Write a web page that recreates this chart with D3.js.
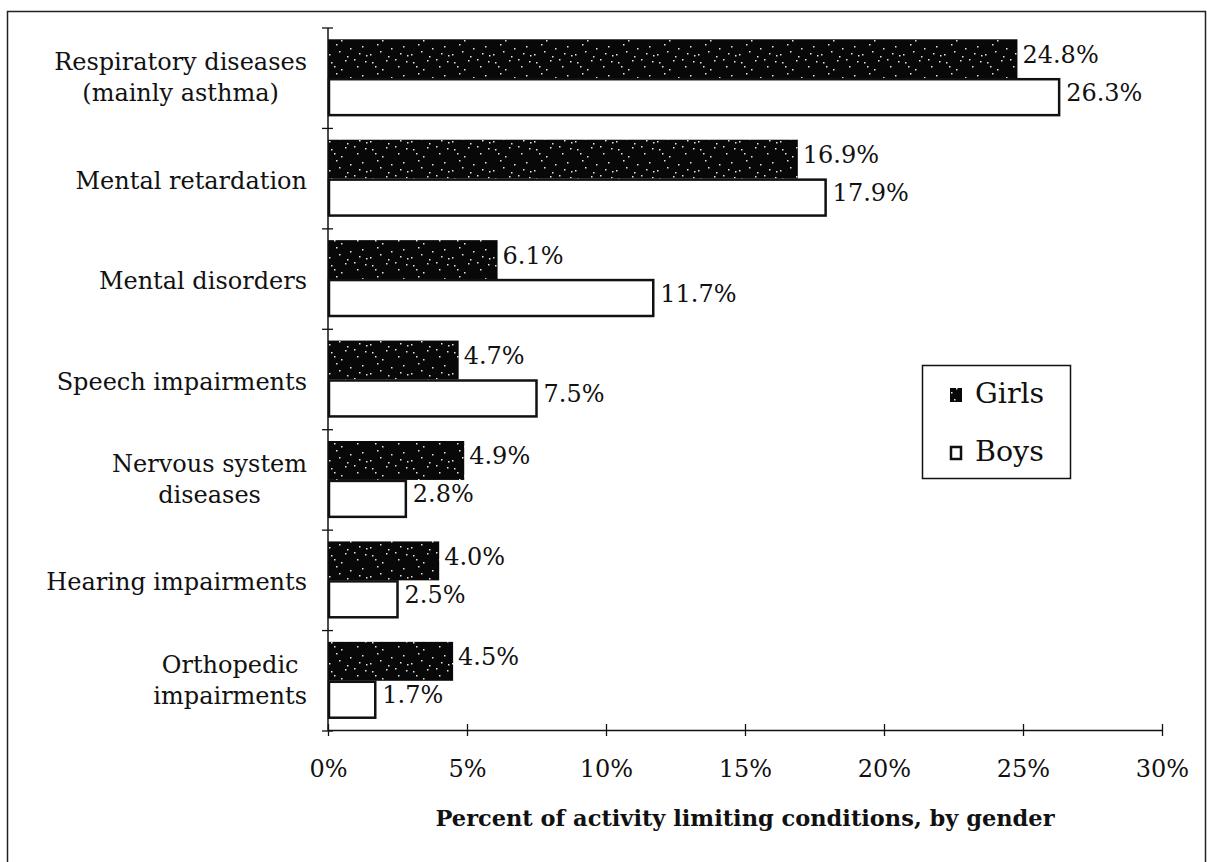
<!DOCTYPE html>
<html>
<head>
<meta charset="utf-8">
<script src="https://cdn.jsdelivr.net/npm/d3@7"></script>
<style>
  body { margin: 0; background: #fff; }
  svg { display: block; }
  text { font-family: "DejaVu Serif", "Liberation Serif", serif; fill: #111; }
</style>
</head>
<body>
<svg id="chart" width="1207" height="862"></svg>
<script>
// data
const categories = [
    "Respiratory diseases\n(mainly asthma)",
    "Mental retardation",
    "Mental disorders",
    "Speech impairments",
    "Nervous system\ndiseases",
    "Hearing impairments",
    "Orthopedic\nimpairments"
];
const series = ["Girls", "Boys"];
const girls = [24.8, 16.9, 6.1, 4.7, 4.9, 4.0, 4.5];
const boys = [26.3, 17.9, 11.7, 7.5, 2.8, 2.5, 1.7];
const xTicks = [0, 5, 10, 15, 20, 25, 30];
const axisTitle = "Percent of activity limiting conditions, by gender";

const svg = d3.select("#chart");
const fontSize = 24;

// speckled black fill for the girls bars
const defs = svg.append("defs");
const pat = defs.append("pattern")
    .attr("id", "speckle")
    .attr("width", 41).attr("height", 29)
    .attr("patternUnits", "userSpaceOnUse");
pat.append("rect").attr("width", 41).attr("height", 29).attr("fill", "#080808");
const dots = [[3,4],[17,2],[29,8],[37,3],[8,15],[22,19],[34,17],[1,25],[13,11],[38,26],[26,1],[11,22],[31,24],[19,27],[6,8]];
pat.selectAll("rect.d").data(dots).enter().append("rect")
    .attr("class", "d")
    .attr("x", d => d[0]).attr("y", d => d[1])
    .attr("width", 1.5).attr("height", 1.5)
    .attr("fill", "#e8e8e8");

// frame round the picture
svg.append("rect")
    .attr("x", 7.5).attr("y", 11.5)
    .attr("width", 1198).attr("height", 880)
    .attr("fill", "none").attr("stroke", "#222").attr("stroke-width", 1.5);

const x = d3.scaleLinear().domain([0, 30]).range([328, 1162]);
const y = d3.scaleBand().domain(categories).range([28, 731]);
const ySub = d3.scaleBand().domain(series).range([0, y.bandwidth()])
    .paddingInner(0).paddingOuter(0.29);

const rows = categories.map((c, i) => ({ cat: c, girls: girls[i], boys: boys[i] }));

// bars
const g = svg.append("g");
rows.forEach(r => {
    g.append("rect")
        .attr("x", x(0))
        .attr("y", y(r.cat) + ySub("Girls"))
        .attr("width", x(r.girls) - x(0))
        .attr("height", ySub.bandwidth())
        .attr("fill", "url(#speckle)");
    g.append("rect")
        .attr("x", x(0) + 1)
        .attr("y", y(r.cat) + ySub("Boys") + 1)
        .attr("width", x(r.boys) - x(0) - 1)
        .attr("height", ySub.bandwidth() - 3)
        .attr("fill", "#fff")
        .attr("stroke", "#111")
        .attr("stroke-width", 2.5);

    g.append("text")
        .attr("x", x(r.girls) + 5)
        .attr("y", y(r.cat) + ySub("Girls") + ySub.bandwidth() / 2 + 4)
        .attr("font-size", fontSize)
        .text(r.girls.toFixed(1) + "%");
    g.append("text")
        .attr("x", x(r.boys) + 7)
        .attr("y", y(r.cat) + ySub("Boys") + ySub.bandwidth() / 2 + 3)
        .attr("font-size", fontSize)
        .text(r.boys.toFixed(1) + "%");
});

// y axis: line with ticks crossing it at band edges
const yAxis = svg.append("g");
yAxis.append("line")
    .attr("x1", x(0)).attr("x2", x(0))
    .attr("y1", y.range()[0]).attr("y2", y.range()[1])
    .attr("stroke", "#111").attr("stroke-width", 1.5);
const edges = categories.map(c => y(c)).concat([y.range()[1]]);
yAxis.selectAll("line.tick").data(edges).enter().append("line")
    .attr("class", "tick")
    .attr("x1", x(0) - 6).attr("x2", x(0) + 5)
    .attr("y1", d => d).attr("y2", d => d)
    .attr("stroke", "#111").attr("stroke-width", 1.3);

// category labels, lines centred on each other, block right aligned
categories.forEach(c => {
    const lines = c.split("\n");
    const mid = y(c) + y.bandwidth() / 2;
    const t = svg.append("text").attr("font-size", fontSize);
    const spans = lines.map(l => t.append("tspan").text(l));
    const maxW = d3.max(spans, s => s.node().getComputedTextLength());
    const cx = 307 - maxW / 2;
    t.attr("text-anchor", "middle");
    spans.forEach((s, i) => {
        const base = lines.length === 1 ? mid + 10 : mid - 8 + i * 31;
        s.attr("x", cx).attr("y", base);
    });
});

// x axis
const xAxis = svg.append("g").attr("transform", "translate(0,730)")
    .call(d3.axisBottom(x).tickValues(xTicks).tickSize(0).tickPadding(0).tickFormat(d => d + "%"));
xAxis.select(".domain").attr("stroke", "#111").attr("stroke-width", 1.5);
xAxis.selectAll(".tick").append("line")
    .attr("y1", -6).attr("y2", 6)
    .attr("stroke", "#111").attr("stroke-width", 1.3);
xAxis.selectAll(".tick text")
    .attr("font-size", fontSize)
    .attr("font-family", null)
    .attr("dy", null)
    .attr("y", 47)
    .attr("fill", "#111");

svg.append("text")
    .attr("x", (x(0) + x(30)) / 2)
    .attr("y", 826)
    .attr("text-anchor", "middle")
    .attr("font-size", 22.5)
    .attr("font-weight", "bold")
    .text(axisTitle);

// legend
const leg = svg.append("g");
leg.append("rect")
    .attr("x", 922.5).attr("y", 365.5).attr("width", 148).attr("height", 113)
    .attr("fill", "#fff").attr("stroke", "#111").attr("stroke-width", 1.5);
const legY = d3.scalePoint().domain(series).range([395, 453]);
leg.selectAll("rect.sw").data(series).enter().append("rect")
    .attr("class", "sw")
    .attr("x", d => d === "Girls" ? 950 : 951)
    .attr("y", d => legY(d) - 7 + (d === "Boys" ? 1 : 0))
    .attr("width", d => d === "Girls" ? 12 : 10)
    .attr("height", d => d === "Girls" ? 14 : 12)
    .attr("fill", d => d === "Girls" ? "url(#speckle)" : "#fff")
    .attr("stroke", d => d === "Girls" ? "none" : "#111")
    .attr("stroke-width", 2.5);
leg.selectAll("text").data(series).enter().append("text")
    .attr("x", 975)
    .attr("y", d => legY(d) + 8)
    .attr("font-size", 28.5)
    .text(d => d);
</script>
</body>
</html>
